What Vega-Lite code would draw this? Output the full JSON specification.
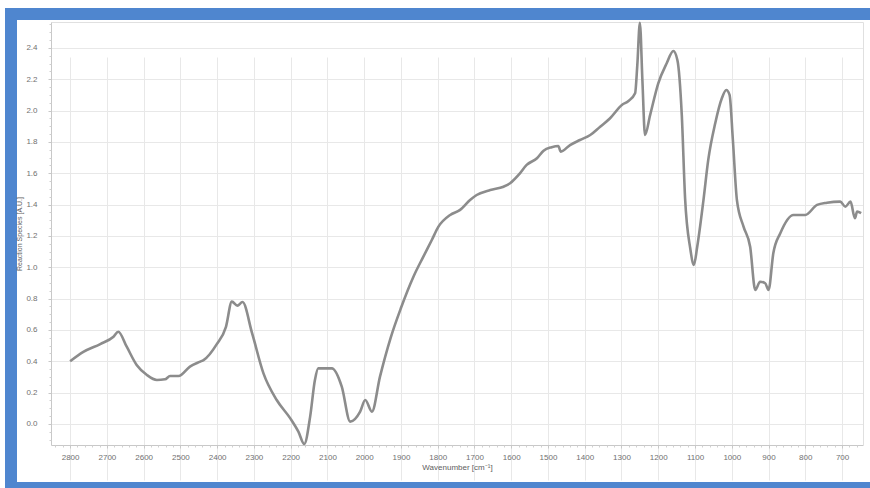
{
  "$schema": "https://vega.github.io/schema/vega-lite/v6.json",
  "width": 866,
  "height": 474,
  "autosize": {"type": "none"},
  "padding": {"left": 11, "top": 14, "right": -7, "bottom": 0},
  "background": "white",
  "config": {
    "view": {"fill": "white", "stroke": "#4f86cf", "strokeWidth": 12},
    "font": "Liberation Sans"
  },
  "data": {
    "values": [
      {"wavenumber": 2800, "intensity": 0.40},
      {"wavenumber": 2764, "intensity": 0.46},
      {"wavenumber": 2718, "intensity": 0.51},
      {"wavenumber": 2682, "intensity": 0.557},
      {"wavenumber": 2669, "intensity": 0.589},
      {"wavenumber": 2646, "intensity": 0.493},
      {"wavenumber": 2619, "intensity": 0.377},
      {"wavenumber": 2591, "intensity": 0.313},
      {"wavenumber": 2564, "intensity": 0.281},
      {"wavenumber": 2542, "intensity": 0.285},
      {"wavenumber": 2528, "intensity": 0.306},
      {"wavenumber": 2505, "intensity": 0.306},
      {"wavenumber": 2474, "intensity": 0.366},
      {"wavenumber": 2446, "intensity": 0.398},
      {"wavenumber": 2437, "intensity": 0.408},
      {"wavenumber": 2401, "intensity": 0.51},
      {"wavenumber": 2376, "intensity": 0.62},
      {"wavenumber": 2360, "intensity": 0.781},
      {"wavenumber": 2345, "intensity": 0.755},
      {"wavenumber": 2331, "intensity": 0.778},
      {"wavenumber": 2305, "intensity": 0.58},
      {"wavenumber": 2274, "intensity": 0.323},
      {"wavenumber": 2238, "intensity": 0.153},
      {"wavenumber": 2201, "intensity": 0.036},
      {"wavenumber": 2179, "intensity": -0.049},
      {"wavenumber": 2163, "intensity": -0.128},
      {"wavenumber": 2147, "intensity": 0.047},
      {"wavenumber": 2134, "intensity": 0.281},
      {"wavenumber": 2125, "intensity": 0.355},
      {"wavenumber": 2088, "intensity": 0.355},
      {"wavenumber": 2061, "intensity": 0.238},
      {"wavenumber": 2038, "intensity": 0.015},
      {"wavenumber": 2011, "intensity": 0.079},
      {"wavenumber": 1997, "intensity": 0.153},
      {"wavenumber": 1979, "intensity": 0.079},
      {"wavenumber": 1957, "intensity": 0.302},
      {"wavenumber": 1928, "intensity": 0.55},
      {"wavenumber": 1900, "intensity": 0.74},
      {"wavenumber": 1866, "intensity": 0.94},
      {"wavenumber": 1839, "intensity": 1.068},
      {"wavenumber": 1816, "intensity": 1.174},
      {"wavenumber": 1798, "intensity": 1.259},
      {"wavenumber": 1766, "intensity": 1.334},
      {"wavenumber": 1739, "intensity": 1.366},
      {"wavenumber": 1712, "intensity": 1.429},
      {"wavenumber": 1694, "intensity": 1.461},
      {"wavenumber": 1657, "intensity": 1.493},
      {"wavenumber": 1621, "intensity": 1.514},
      {"wavenumber": 1603, "intensity": 1.536},
      {"wavenumber": 1580, "intensity": 1.589},
      {"wavenumber": 1558, "intensity": 1.653},
      {"wavenumber": 1530, "intensity": 1.696},
      {"wavenumber": 1512, "intensity": 1.744},
      {"wavenumber": 1490, "intensity": 1.766},
      {"wavenumber": 1472, "intensity": 1.774},
      {"wavenumber": 1465, "intensity": 1.738},
      {"wavenumber": 1440, "intensity": 1.78},
      {"wavenumber": 1413, "intensity": 1.812},
      {"wavenumber": 1385, "intensity": 1.844},
      {"wavenumber": 1358, "intensity": 1.897},
      {"wavenumber": 1331, "intensity": 1.951},
      {"wavenumber": 1299, "intensity": 2.036},
      {"wavenumber": 1281, "intensity": 2.061},
      {"wavenumber": 1263, "intensity": 2.11},
      {"wavenumber": 1257, "intensity": 2.29},
      {"wavenumber": 1250, "intensity": 2.56},
      {"wavenumber": 1243, "intensity": 2.185},
      {"wavenumber": 1236, "intensity": 1.844},
      {"wavenumber": 1222, "intensity": 1.972},
      {"wavenumber": 1200, "intensity": 2.174},
      {"wavenumber": 1177, "intensity": 2.302},
      {"wavenumber": 1159, "intensity": 2.38},
      {"wavenumber": 1148, "intensity": 2.323},
      {"wavenumber": 1136, "intensity": 1.972},
      {"wavenumber": 1127, "intensity": 1.44},
      {"wavenumber": 1113, "intensity": 1.121},
      {"wavenumber": 1103, "intensity": 1.015},
      {"wavenumber": 1094, "intensity": 1.131},
      {"wavenumber": 1077, "intensity": 1.429},
      {"wavenumber": 1064, "intensity": 1.685},
      {"wavenumber": 1045, "intensity": 1.919},
      {"wavenumber": 1027, "intensity": 2.078},
      {"wavenumber": 1015, "intensity": 2.131},
      {"wavenumber": 1006, "intensity": 2.1},
      {"wavenumber": 997, "intensity": 1.812},
      {"wavenumber": 986, "intensity": 1.429},
      {"wavenumber": 968, "intensity": 1.259},
      {"wavenumber": 950, "intensity": 1.131},
      {"wavenumber": 936, "intensity": 0.855},
      {"wavenumber": 923, "intensity": 0.908},
      {"wavenumber": 909, "intensity": 0.898},
      {"wavenumber": 900, "intensity": 0.855},
      {"wavenumber": 887, "intensity": 1.089},
      {"wavenumber": 868, "intensity": 1.217},
      {"wavenumber": 832, "intensity": 1.334},
      {"wavenumber": 800, "intensity": 1.334},
      {"wavenumber": 768, "intensity": 1.398},
      {"wavenumber": 741, "intensity": 1.412},
      {"wavenumber": 705, "intensity": 1.419},
      {"wavenumber": 691, "intensity": 1.387},
      {"wavenumber": 677, "intensity": 1.419},
      {"wavenumber": 665, "intensity": 1.313},
      {"wavenumber": 659, "intensity": 1.355},
      {"wavenumber": 648, "intensity": 1.345}
    ]
  },
  "resolve": {"axis": {"x": "independent", "y": "independent"}},
  "layer": [
    {
      "mark": {"type": "line", "color": "#8c8c8c", "strokeWidth": 2.6, "interpolate": "monotone"},
      "encoding": {
        "x": {
          "field": "wavenumber", "type": "quantitative",
          "scale": {"domain": [643, 2852], "range": [40, 852], "reverse": true, "nice": false, "zero": false},
          "axis": {
            "orient": "bottom", "offset": -43,
            "values": [700, 800, 900, 1000, 1100, 1200, 1300, 1400, 1500, 1600, 1700, 1800, 1900, 2000, 2100, 2200, 2300, 2400, 2500, 2600, 2700, 2800],
            "format": "d", "title": "Wavenumber [cm⁻¹]",
            "grid": true, "gridColor": "#e8e8e8", "gridWidth": 1,
            "domainColor": "#c8c8c8", "tickColor": "#c8c8c8", "tickSize": 3,
            "labelFontSize": 8, "labelColor": "#707070", "labelPadding": 5,
            "labelFlush": false, "labelOverlap": false,
            "titleFontSize": 8, "titleFontWeight": "normal", "titleColor": "#606060", "titlePadding": 2
          }
        },
        "y": {
          "field": "intensity", "type": "quantitative",
          "scale": {"domain": [-0.134, 2.565], "range": [431, 8], "nice": false, "zero": false},
          "axis": {
            "orient": "left", "offset": -40,
            "values": [0, 0.2, 0.4, 0.6, 0.8, 1.0, 1.2, 1.4, 1.6, 1.8, 2.0, 2.2, 2.4],
            "format": ".1f", "title": "Reaction Species [A.U.]",
            "grid": true, "gridColor": "#e8e8e8", "gridWidth": 1,
            "domainColor": "#c8c8c8", "tickColor": "#c8c8c8", "tickSize": 3,
            "labelFontSize": 8, "labelColor": "#707070", "labelPadding": 11,
            "labelFlush": false, "labelOverlap": false,
            "titleFontSize": 7, "titleFontWeight": "normal", "titleColor": "#606060", "titlePadding": 3
          }
        }
      }
    },
    {
      "mark": {"type": "line", "strokeOpacity": 0},
      "encoding": {
        "x": {
          "field": "wavenumber", "type": "quantitative",
          "scale": {"domain": [643, 2852], "range": [40, 852], "reverse": true, "nice": false, "zero": false},
          "axis": {
            "orient": "bottom", "offset": -43,
            "values": [660, 680, 720, 740, 760, 780, 820, 840, 860, 880, 920, 940, 960, 980, 1020, 1040, 1060, 1080, 1120, 1140, 1160, 1180, 1220, 1240, 1260, 1280, 1320, 1340, 1360, 1380, 1420, 1440, 1460, 1480, 1520, 1540, 1560, 1580, 1620, 1640, 1660, 1680, 1720, 1740, 1760, 1780, 1820, 1840, 1860, 1880, 1920, 1940, 1960, 1980, 2020, 2040, 2060, 2080, 2120, 2140, 2160, 2180, 2220, 2240, 2260, 2280, 2320, 2340, 2360, 2380, 2420, 2440, 2460, 2480, 2520, 2540, 2560, 2580, 2620, 2640, 2660, 2680, 2720, 2740, 2760, 2780, 2820, 2840],
            "labels": false, "domain": false, "grid": false, "title": null,
            "tickColor": "#d0d0d0", "tickSize": 2
          }
        },
        "y": {
          "field": "intensity", "type": "quantitative",
          "scale": {"domain": [-0.134, 2.565], "range": [431, 8], "nice": false, "zero": false},
          "axis": {
            "orient": "left", "offset": -40,
            "values": [-0.1, -0.05, 0.05, 0.1, 0.15, 0.25, 0.3, 0.35, 0.45, 0.5, 0.55, 0.65, 0.7, 0.75, 0.85, 0.9, 0.95, 1.05, 1.1, 1.15, 1.25, 1.3, 1.35, 1.45, 1.5, 1.55, 1.65, 1.7, 1.75, 1.85, 1.9, 1.95, 2.05, 2.1, 2.15, 2.25, 2.3, 2.35, 2.45, 2.5, 2.55],
            "labels": false, "domain": false, "grid": false, "title": null,
            "tickColor": "#d0d0d0", "tickSize": 2
          }
        }
      }
    },
    {
      "mark": {"type": "line", "strokeOpacity": 0},
      "encoding": {
        "x": {
          "field": "wavenumber", "type": "quantitative",
          "scale": {"domain": [643, 2852], "range": [40, 852], "reverse": true, "nice": false, "zero": false},
          "axis": {
            "orient": "top", "offset": -8,
            "labels": false, "ticks": false, "grid": false, "title": null,
            "domainColor": "#e0e0e0"
          }
        },
        "y": {
          "field": "intensity", "type": "quantitative",
          "scale": {"domain": [-0.134, 2.565], "range": [431, 8], "nice": false, "zero": false},
          "axis": {
            "orient": "right", "offset": -14,
            "labels": false, "ticks": false, "grid": false, "title": null,
            "domainColor": "#e0e0e0"
          }
        }
      }
    }
  ]
}
